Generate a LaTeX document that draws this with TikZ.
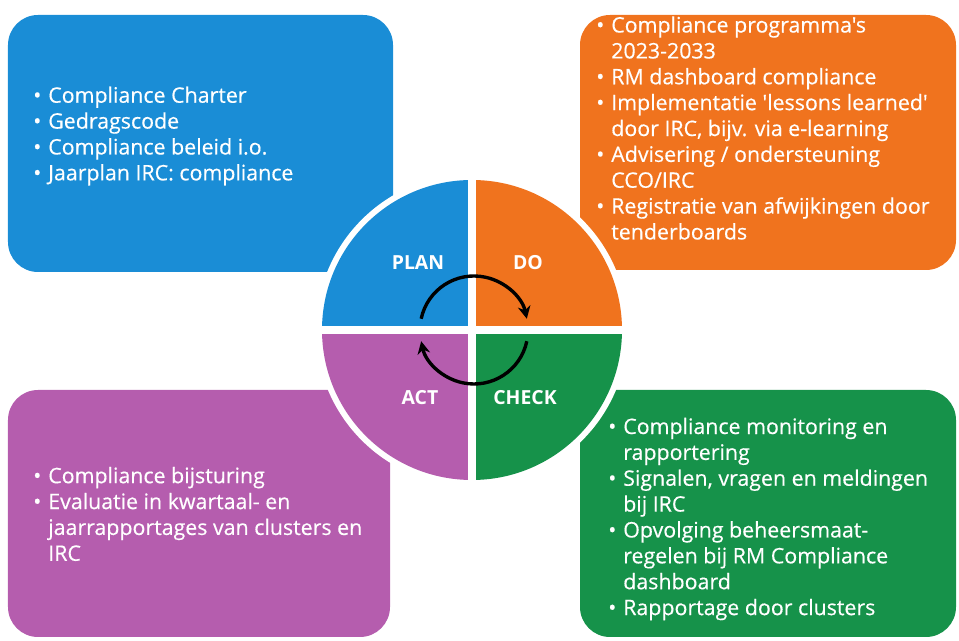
\documentclass[tikz,border=0pt]{standalone}
\usepackage{fontspec}
\setmainfont{Open Sans}
\newfontfamily\lijstfont{Open Sans}[FakeBold=0.4]
\usetikzlibrary{positioning}
\usetikzlibrary{arrows.meta}

\definecolor{planblue}{HTML}{1A8DD6}
\definecolor{doorange}{HTML}{F0731E}
\definecolor{checkgreen}{HTML}{16924A}
\definecolor{actpurple}{HTML}{B55DAE}

\newcommand{\punt}{\makebox[0.375cm][l]{\textbullet}}
\newcommand{\verder}{\hspace*{0.375cm}}

\begin{document}
\begin{tikzpicture}[
	kader/.style={rounded corners=0.75cm},
	lijst/.style={text=white,align=left,inner sep=0pt,font=\lijstfont\fontsize{15.2}{18.4}\selectfont},
	fase/.style={text=white,font=\bfseries\fontsize{13.8}{16}\selectfont},
	kring/.style={line width=2.4pt,-{Stealth[length=9pt,width=9pt]}}
	]
				
				\useasboundingbox (0,0) rectangle (23.975,16.025);
				
				% kaders
				\fill[planblue,kader] (0.2,9.225) rectangle (9.825,15.65);
				\fill[doorange,kader] (14.5,9.275) rectangle (23.9,15.65);
				\fill[actpurple,kader] (0.2,0.1) rectangle (9.75,6.275);
				\fill[checkgreen,kader] (14.5,0.1) rectangle (23.9,6.275);
				
				% cirkel
				\coordinate (M) at (11.8,7.775);
				\fill[white] (M) circle (3.9);
				\fill[planblue] (M) -- ++(180:3.75) arc[start angle=180,end angle=90,radius=3.75] -- cycle;
				\fill[doorange] (M) -- ++(90:3.75) arc[start angle=90,end angle=0,radius=3.75] -- cycle;
				\fill[checkgreen] (M) -- ++(0:3.75) arc[start angle=0,end angle=-90,radius=3.75] -- cycle;
				\fill[actpurple] (M) -- ++(-90:3.75) arc[start angle=-90,end angle=-180,radius=3.75] -- cycle;
				\draw[white,line width=0.2cm] ([xshift=-3.9cm]M) -- ([xshift=3.9cm]M);
				\draw[white,line width=0.2cm] ([yshift=-3.9cm]M) -- ([yshift=3.9cm]M);
				
				\node[fase] (plan) at (10.45,9.45) {PLAN};
				\node[fase] (do) at (13.2,9.45) {DO};
				\node[fase] (act) at (10.5,6.075) {ACT};
				\node[fase] (check) at (13.125,6.075) {CHECK};
				
				% pijlen
				\coordinate (K) at (11.85,7.775);
				\draw[kring] (K) ++(168:1.35) arc[start angle=168,end angle=12,radius=1.35];
				\draw[kring] (K) ++(-12:1.35) arc[start angle=-12,end angle=-168,radius=1.35];
				
				% teksten
				\node[lijst,anchor=west] (plantekst) at (0.825,12.625) {\punt Compliance Charter\\
					\punt Gedragscode\\
					\punt Compliance beleid i.o.\\
					\punt Jaarplan IRC: compliance};
				
				\node[lijst,anchor=west] (dotekst) at (14.9,12.825) {\punt Compliance programma's\\
					\verder 2023-2033\\
					\punt RM dashboard compliance\\
					\punt Implementatie 'lessons learned'\\
					\verder door IRC, bijv. via e-learning\\
					\punt Advisering / ondersteuning\\
					\verder CCO/IRC\\
					\punt Registratie van afwijkingen door\\
					\verder tenderboards};
				
				\node[lijst,anchor=west] (checktekst) at (15.2,3.05) {\punt Compliance monitoring en\\
					\verder rapportering\\
					\punt Signalen, vragen en meldingen\\
					\verder bij IRC\\
					\punt Opvolging beheersmaat-\\
					\verder regelen bij RM Compliance\\
					\verder dashboard\\
					\punt Rapportage door clusters};
				
				\node[lijst,anchor=west] (acttekst) at (0.825,3.175) {\punt Compliance bijsturing\\
					\punt Evaluatie in kwartaal- en\\
					\verder jaarrapportages van clusters en\\
					\verder IRC};
				
\end{tikzpicture}
\end{document}
